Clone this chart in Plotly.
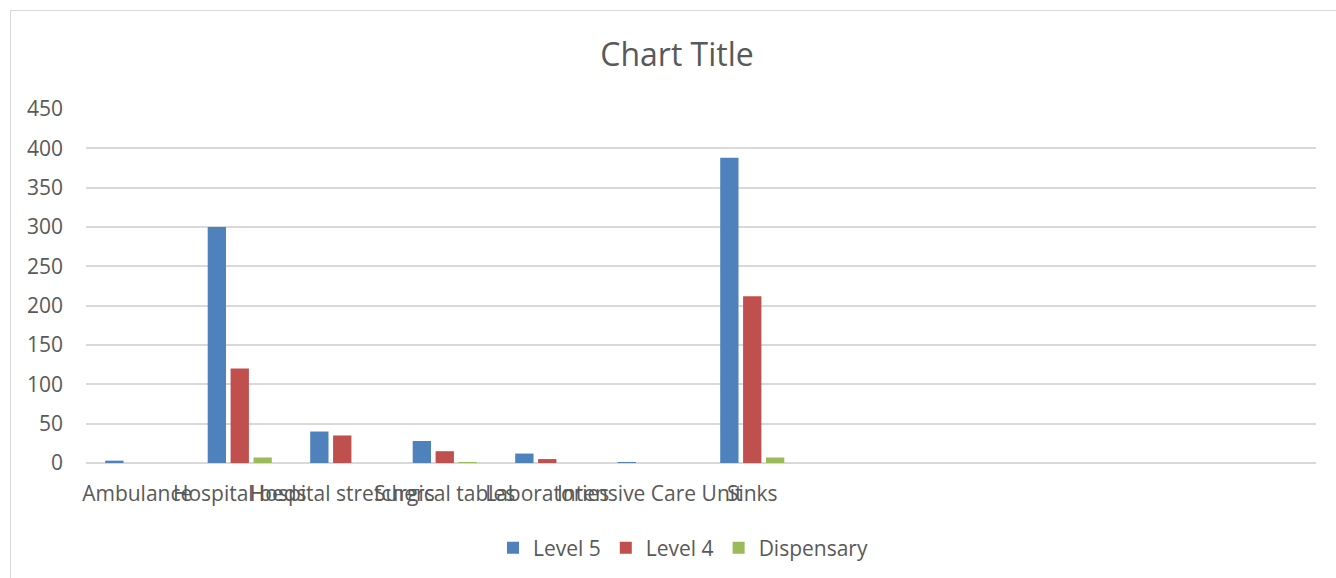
import plotly.graph_objects as go

categories = ["Ambulance", "Hospital beds", "Hospital stretchers", "Surgical tables",
              "Laboratories", "Intensive Care Unit", "Sinks"]
n_slots = 12  # the category axis has 5 further empty slots
level5 = [3, 300, 40, 28, 12, 1, 388]
level4 = [0, 120, 35, 15, 5, 0, 212]
dispensary = [0, 7, 0, 1, 0, 0, 7]
series_names = ["Level 5", "Level 4", "Dispensary"]
colors = ["#4F81BD", "#C0504D", "#9BBB59"]
y_ticks = [0, 50, 100, 150, 200, 250, 300, 350, 400, 450]

W, H = 1336, 578
L, R, T, B = 86, 20, 109, 115
pw, ph = W - L - R, H - T - B

font = "Open Sans, DejaVu Sans, sans-serif"
grey = "#595959"

xs = list(range(len(categories)))
fig = go.Figure()
for name, vals, c in zip(series_names, [level5, level4, dispensary], colors):
    fig.add_trace(go.Bar(x=xs, y=vals, name=name, marker=dict(color=c, line=dict(width=0))))

def px_x(p):
    return (p - L) / pw

def px_y(p):
    return (H - B - p) / ph

fig.update_layout(
    width=W, height=H,
    margin=dict(l=L, r=R, t=T, b=B, autoexpand=False),
    paper_bgcolor="white", plot_bgcolor="white",
    barmode="group", bargap=0.33, bargroupgap=0.2,
    title=dict(text="Chart Title", x=677 / W, xanchor="center", y=1 - 55 / H, yanchor="middle",
               font=dict(family=font, size=32, color=grey)),
    font=dict(family=font, color=grey),
    xaxis=dict(range=[-0.5, n_slots - 0.5], tickmode="array", tickvals=xs, ticktext=categories,
               showgrid=False, zeroline=False, showline=False, ticks="",
               ticklabelstandoff=16, tickfont=dict(size=21, color=grey), tickangle=0),
    yaxis=dict(range=[0, 450], tickmode="array", tickvals=y_ticks, showgrid=True,
               gridcolor="#d9d9d9", gridwidth=1.5, zeroline=True, zerolinecolor="#d9d9d9",
               zerolinewidth=1.5, showline=False, ticks="", ticklabelstandoff=22,
               tickfont=dict(size=21, color=grey)),
    legend=dict(orientation="h", x=px_x(683), xanchor="center", y=px_y(548), yanchor="middle",
                font=dict(size=21, color=grey), itemwidth=30, traceorder="normal"),
    shapes=[dict(type="rect", xref="paper", yref="paper",
                 x0=px_x(10.5), x1=px_x(W + 20), y0=px_y(H + 20), y1=px_y(10.5),
                 line=dict(color="#d9d9d9", width=1), fillcolor="rgba(0,0,0,0)", layer="below")],
)
fig.write_html("out.html")
